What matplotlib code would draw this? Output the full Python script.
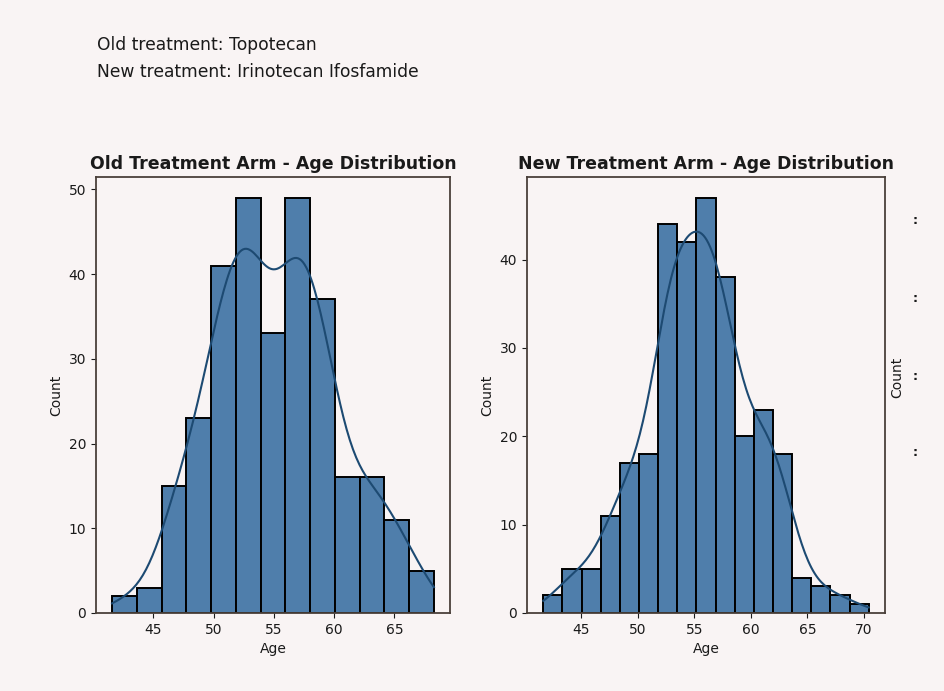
import numpy as np
import matplotlib
matplotlib.use("Agg")
import matplotlib.pyplot as plt


# ============================================================
# DATA
# ============================================================

old_counts    = [2, 3, 15, 23, 41, 49, 33, 49, 37, 16, 16, 11, 5]
old_bin_start = 41.57
old_bin_width = 2.054

new_counts    = [2, 5, 5, 11, 17, 18, 44, 42, 47, 38, 20, 23, 18, 4, 3, 2, 1]
new_bin_start = 41.62
new_bin_width = 1.694

old_ticks = [45, 50, 55, 60, 65]
new_ticks = [45, 50, 55, 60, 65, 70]

header_lines = ["Old treatment: Topotecan",
                "New treatment: Irinotecan Ifosfamide"]
titles = ["Old Treatment Arm - Age Distribution",
          "New Treatment Arm - Age Distribution"]


# ============================================================
# STYLE
# ============================================================

BG       = "#f9f4f4"
BAR      = "#4f7eab"
LINE     = "#1d4a72"
SPINE    = "#4a403a"
TEXT     = "#1a1a1a"
W, H     = 944, 691


def kde_curve(counts, start, width):
    # smoothed count curve from the histogram itself (seaborn-style scaling)
    counts  = np.asarray(counts, dtype=float)
    edges   = start + width * np.arange(len(counts) + 1)
    centers = (edges[:-1] + edges[1:]) / 2
    n       = counts.sum()
    mean    = np.sum(counts * centers) / n
    var     = np.sum(counts * (centers - mean) ** 2) / n + width ** 2 / 12
    bw      = np.sqrt(var) * n ** (-1 / 5)
    xs      = np.linspace(edges[0], edges[-1], 200)
    dens    = (counts[None, :] * np.exp(-0.5 * ((xs[:, None] - centers[None, :]) / bw) ** 2)).sum(axis=1)
    dens   /= (n * bw * np.sqrt(2 * np.pi))
    return xs, dens * n * width


def draw_hist(ax, counts, start, width, ticks, title):
    edges = start + width * np.arange(len(counts) + 1)
    ax.bar(edges[:-1], counts, width=width, align="edge",
           color=BAR, edgecolor="black", linewidth=1.4)
    xs, ys = kde_curve(counts, start, width)
    ax.plot(xs, ys, color=LINE, linewidth=1.5)

    ax.set_facecolor(BG)
    ax.set_xticks(ticks)
    ax.set_title(title, fontsize=12.5, color=TEXT, pad=6, fontweight="bold")
    ax.set_xlabel("Age", fontsize=10, color=TEXT)
    ax.set_ylabel("Count", fontsize=10, color=TEXT)
    ax.tick_params(labelsize=10, colors=TEXT, length=3.5)
    for s in ax.spines.values():
        s.set_color(SPINE)
        s.set_linewidth(1.3)


fig = plt.figure(figsize=(W / 100, H / 100), dpi=100)
fig.patch.set_facecolor(BG)

ax_old = fig.add_axes([96 / W, 78 / H, 354 / W, 436 / H])
ax_new = fig.add_axes([527 / W, 78 / H, 358 / W, 436 / H])

draw_hist(ax_old, old_counts, old_bin_start, old_bin_width, old_ticks, titles[0])
draw_hist(ax_new, new_counts, new_bin_start, new_bin_width, new_ticks, titles[1])

# header notes
fig.text(97 / W, 1 - 45 / H, header_lines[0], fontsize=12.3, color=TEXT, va="center")
fig.text(97 / W, 1 - 72 / H, header_lines[1], fontsize=12.3, color=TEXT, va="center")

# leftovers of a third panel cut off at the right edge
fig.text(897 / W, 1 - 377 / H, "Count", fontsize=10, color=TEXT,
         rotation=90, ha="center", va="center")
for yy in [220, 298, 377, 453]:
    fig.text(915 / W, 1 - yy / H, ":", fontsize=9, color=TEXT,
             ha="center", va="center", fontweight="bold")

plt.savefig("out.png", dpi=100, facecolor=BG)
plt.close()
